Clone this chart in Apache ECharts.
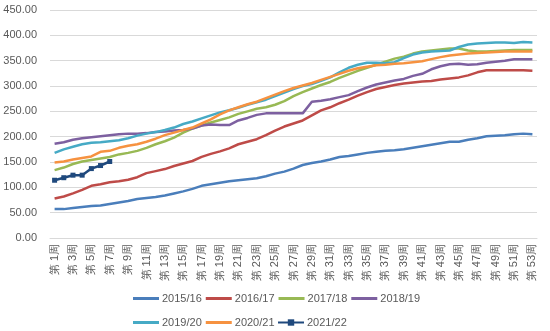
<!DOCTYPE html>
<html>
<head>
<meta charset="utf-8">
<script src="https://cdn.jsdelivr.net/npm/echarts@6/dist/echarts.min.js"></script>
<style>
html,body{margin:0;padding:0;background:#fff;}
#chart{width:550px;height:331px;}
</style>
</head>
<body>
<div id="chart"></div>
<script>
const weeks = [];
for (let i = 1; i <= 53; i++) weeks.push('第 ' + i + '周');

const seriesNames = ['2015/16','2016/17','2017/18','2018/19','2019/20','2020/21','2021/22'];

const s2015 = [57,57,59,61,63,64,67,70,73,77,79,81,84,88,92,97,103,106,109,112,114,116,118,122,127,131,137,144,148,151,155,160,162,165,168,170,172,173,175,178,181,184,187,190,190,194,197,201,202,203,205,206,205];
const s2016 = [78,82,88,95,103,106,110,112,115,120,128,132,136,142,147,152,160,166,171,177,185,190,195,203,212,220,226,232,242,252,258,266,273,281,288,294,298,302,305,307,309,310,313,315,317,321,327,331,331,331,331,331,330];
const s2017 = [134,139,146,151,154,157,160,165,168,172,178,185,191,198,208,216,222,228,233,238,245,250,255,258,263,270,280,288,295,302,308,316,323,330,336,342,348,354,358,364,368,370,372,374,374,370,368,368,369,370,371,371,371];
const s2018 = [186,189,194,197,199,201,203,205,206,206,207,209,210,212,213,216,222,224,223,223,232,237,243,246,246,246,246,246,269,271,274,278,282,290,297,303,307,311,314,320,324,333,339,343,344,342,343,346,348,350,353,353,353];
const s2019 = [168,175,180,185,188,189,191,193,197,202,206,209,213,218,225,230,236,242,248,252,257,263,268,273,280,287,294,300,304,310,317,327,336,342,346,346,345,347,355,362,366,368,369,370,377,382,384,385,386,386,385,387,386];
const s2020 = [149,151,155,158,161,170,172,178,182,185,190,196,203,208,213,218,226,234,244,252,258,264,269,276,283,290,296,301,306,312,318,324,330,335,338,341,342,344,345,347,349,353,357,360,362,364,365,366,367,368,368,368,368];
const s2021 = [114,119,124,124,137,143,151];

const yTicks = {min: 0, max: 450, interval: 50};

const colors = ['#4A7EBB','#BE4B48','#98B954','#7D60A0','#46AAC5','#F69240','#1F497D'];
const allData = [s2015, s2016, s2017, s2018, s2019, s2020, s2021];

const textColor = '#595959';
const font = 'Liberation Sans, Arial, sans-serif';

const series = allData.map((d, i) => {
  const last = i === 6;
  return {
    name: seriesNames[i],
    type: 'line',
    data: d,
    smooth: false,
    symbol: last ? 'rect' : 'none',
    symbolSize: 5,
    showSymbol: last,
    lineStyle: {color: colors[i], width: 2.5},
    itemStyle: {color: colors[i]},
    emphasis: {disabled: true},
    animation: false
  };
});

const legendText = {color: textColor, fontSize: 11, fontFamily: font, padding: [0, 0, 0, -2]};
function makeLegend(names, left, top, icon, h) {
  const l = {
    data: names,
    left: left, top: top, padding: 0,
    itemWidth: 26, itemHeight: h, itemGap: 4,
    textStyle: legendText,
    selectedMode: false
  };
  if (icon) l.icon = icon;
  return l;
}

const chart = echarts.init(document.getElementById('chart'), null, {renderer: 'canvas'});
chart.setOption({
  animation: false,
  color: colors,
  grid: {left: 50, right: 13, top: 10, bottom: 93, containLabel: false, outerBoundsMode: 'none'},
  xAxis: {
    type: 'category',
    data: weeks,
    boundaryGap: true,
    axisLine: {show: true, lineStyle: {color: '#D9D9D9', width: 1}},
    axisTick: {show: false},
    axisLabel: {
      interval: 1,
      rotate: 90,
      margin: 6,
      color: textColor,
      fontSize: 11,
      fontFamily: font
    },
    splitLine: {show: false}
  },
  yAxis: {
    type: 'value',
    min: yTicks.min,
    max: yTicks.max,
    interval: yTicks.interval,
    axisLine: {show: false},
    axisTick: {show: false},
    axisLabel: {
      margin: 13,
      color: textColor,
      fontSize: 11,
      fontFamily: font,
      formatter: v => v.toFixed(2)
    },
    splitLine: {lineStyle: {color: '#D9D9D9', width: 1}}
  },
  legend: [
    makeLegend(seriesNames.slice(0, 4), 133, 293, 'rect', 3),
    makeLegend(seriesNames.slice(4, 6), 133, 317, 'rect', 3),
    makeLegend(seriesNames.slice(6), 277, 317, null, 8)
  ],
  series: series
});
</script>
</body>
</html>
